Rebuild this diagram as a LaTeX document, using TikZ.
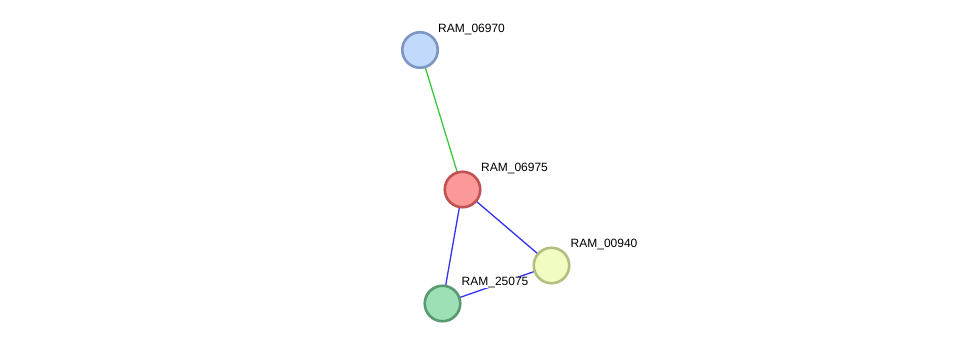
\documentclass[tikz,border=0pt]{standalone}
\usepackage{fontspec}
\setmainfont{Liberation Sans}
\begin{document}
\begin{tikzpicture}[x=1pt,y=-1pt,
  prot/.style={circle,minimum size=35.5pt,inner sep=0pt,line width=2.6pt},
  lbl/.style={anchor=west,inner sep=0pt,fill=white,font=\fontsize{12}{13}\selectfont},
  greenedge/.style={draw={rgb,255:red,60;green,200;blue,60},line width=1.3pt},
  blueedge/.style={draw={rgb,255:red,50;green,50;blue,240},line width=1.3pt}]
\useasboundingbox (0,0) rectangle (976,349);
\definecolor{bfill}{RGB}{193,217,251}\definecolor{bline}{RGB}{125,150,197}
\definecolor{rfill}{RGB}{251,152,152}\definecolor{rline}{RGB}{192,82,82}
\definecolor{yfill}{RGB}{241,252,193}\definecolor{yline}{RGB}{180,190,128}
\definecolor{gfill}{RGB}{158,224,182}\definecolor{gline}{RGB}{88,153,113}
\coordinate (c1) at (420,50);
\coordinate (c2) at (462.5,189.5);
\coordinate (c3) at (551.5,265.5);
\coordinate (c4) at (442.5,303.5);
\draw[greenedge] (c1) -- (c2);
\draw[blueedge] (c2) -- (c3);
\draw[blueedge] (c2) -- (c4);
\draw[blueedge] (c3) -- (c4);
\node[prot,fill=bfill,draw=bline] (n1) at (c1) {};
\node[prot,fill=rfill,draw=rline] (n2) at (c2) {};
\node[prot,fill=yfill,draw=yline] (n3) at (c3) {};
\node[prot,fill=gfill,draw=gline] (n4) at (c4) {};
\node[lbl] (l1) at (438,29) {RAM\_06970};
\node[lbl] (l2) at (481,168.5) {RAM\_06975};
\node[lbl] (l3) at (570.5,244.5) {RAM\_00940};
\node[lbl] (l4) at (461.5,282.5) {RAM\_25075};
\end{tikzpicture}
\end{document}
